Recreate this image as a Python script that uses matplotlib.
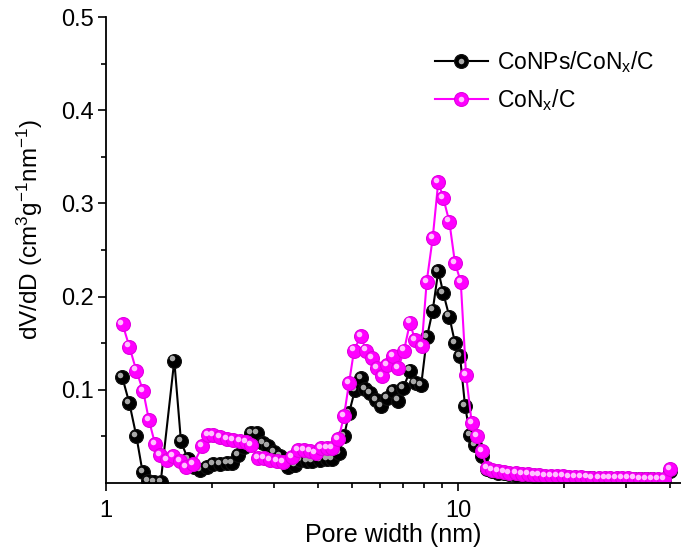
import matplotlib
matplotlib.use("Agg")
import matplotlib.pyplot as plt
from matplotlib.ticker import FixedLocator, NullFormatter, LogLocator
from matplotlib.transforms import ScaledTranslation

plt.rcParams['font.family'] = ['Liberation Sans', 'DejaVu Sans']
plt.rcParams['mathtext.fontset'] = 'custom'
plt.rcParams['mathtext.rm'] = 'Liberation Sans'
plt.rcParams['mathtext.it'] = 'Liberation Sans'
plt.rcParams['mathtext.default'] = 'regular'

# pore widths (nm) and dV/dD
black_x = [1.112, 1.165, 1.219, 1.271, 1.316, 1.372, 1.430, 1.563, 1.633, 1.707,
           1.782, 1.855, 1.936, 2.020, 2.108, 2.202, 2.275, 2.376, 2.474, 2.582,
           2.680, 2.798, 2.891, 3.007, 3.121, 3.295, 3.443, 3.557, 3.717, 3.856,
           4.055, 4.236, 4.394, 4.591, 4.744, 4.902, 5.098, 5.291, 5.442, 5.623,
           5.849, 6.031, 6.272, 6.523, 6.766, 6.991, 7.305, 7.573, 7.860, 8.164,
           8.473, 8.790, 9.082, 9.447, 9.806, 10.13, 10.47, 10.82, 11.18, 11.68, 12.09]
black_y = [0.1136, 0.0857, 0.0507, 0.0113, 0.0019, 0.0008, 0.0008, 0.1314, 0.0446, 0.0260,
           0.0174, 0.0135, 0.0174, 0.0206, 0.0206, 0.0214, 0.0214, 0.0303, 0.0389, 0.0536,
           0.0536, 0.0428, 0.0392, 0.0328, 0.0285, 0.0177, 0.0196, 0.0249, 0.0231, 0.0231,
           0.0249, 0.0257, 0.0257, 0.0321, 0.0499, 0.0750, 0.1000, 0.1125, 0.1007, 0.0965,
           0.0893, 0.0828, 0.0911, 0.0982, 0.0885, 0.1018, 0.1207, 0.1075, 0.1054, 0.1568,
           0.1850, 0.2276, 0.2037, 0.1786, 0.1501, 0.1365, 0.0828, 0.0517, 0.0410, 0.0285, 0.0153]

pink_x = [1.114, 1.165, 1.219, 1.276, 1.325, 1.378, 1.424, 1.488, 1.553, 1.623,
          1.688, 1.770, 1.877, 1.945, 2.017, 2.108, 2.202, 2.299, 2.402, 2.494,
          2.582, 2.697, 2.816, 2.923, 3.054, 3.189, 3.369, 3.518, 3.659, 3.798,
          3.937, 4.081, 4.236, 4.394, 4.576, 4.744, 4.902, 5.065, 5.291, 5.478,
          5.686, 5.875, 6.071, 6.297, 6.523, 6.766, 7.024, 7.305, 7.548, 7.886,
          8.148, 8.473, 8.790, 9.082, 9.447, 9.806, 10.18, 10.54, 10.94, 11.30, 11.68, 12.09]
pink_y = [0.1705, 0.1464, 0.1207, 0.0982, 0.0671, 0.0421, 0.0303, 0.0249, 0.0292, 0.0231,
          0.0167, 0.0203, 0.0392, 0.0510, 0.0517, 0.0493, 0.0475, 0.0458, 0.0453, 0.0435,
          0.0410, 0.0268, 0.0268, 0.0249, 0.0231, 0.0220, 0.0278, 0.0357, 0.0357, 0.0338,
          0.0324, 0.0375, 0.0375, 0.0373, 0.0469, 0.0721, 0.1072, 0.1421, 0.1579, 0.1421,
          0.1340, 0.1233, 0.1150, 0.1268, 0.1365, 0.1233, 0.1421, 0.1722, 0.1529, 0.1472,
          0.2161, 0.2627, 0.3234, 0.3056, 0.2805, 0.2359, 0.2161, 0.1161, 0.0643, 0.0507, 0.0338, 0.0160]

# large-pore tail, shared x positions
tail_x = [12.5, 13.0, 13.5, 14.0, 14.6, 15.2, 15.8, 16.4, 17.0, 17.7,
          18.4, 19.1, 19.9, 20.7, 21.5, 22.3, 23.2, 24.1, 25.1, 26.1,
          27.1, 28.2, 29.3, 30.4, 31.6, 32.9, 34.2, 35.5, 36.9, 38.4, 40.0]
black_tail = [0.0125, 0.0112, 0.0102, 0.0096, 0.0090, 0.0086, 0.0082, 0.0077, 0.0072, 0.0068,
              0.0066, 0.0063, 0.0060, 0.0057, 0.0055, 0.0053, 0.0051, 0.0050, 0.0048, 0.0046,
              0.0045, 0.0044, 0.0043, 0.0042, 0.0041, 0.0040, 0.0039, 0.0038, 0.0037, 0.0036, 0.0130]
pink_tail = [0.0137, 0.0126, 0.0115, 0.0110, 0.0104, 0.0099, 0.0094, 0.0088, 0.0083, 0.0078,
             0.0076, 0.0072, 0.0070, 0.0066, 0.0064, 0.0062, 0.0059, 0.0058, 0.0056, 0.0054,
             0.0053, 0.0052, 0.0051, 0.0049, 0.0048, 0.0047, 0.0046, 0.0045, 0.0044, 0.0043, 0.0150]

labels = ['CoNPs/CoN$_x$/C', 'CoN$_x$/C']

fig = plt.figure(figsize=(6.81, 5.51), dpi=100)
ax = fig.add_axes([106/681, 68/551, 575/681, 466/551])

shift = ax.transData + ScaledTranslation(-1.5/72, 1.5/72, fig.dpi_scale_trans)
handles = []
series = [(black_x + tail_x, black_y + black_tail, 'black', '#111111', '#a8a8a8'),
          (pink_x + tail_x, pink_y + pink_tail, '#ff00ff', '#e000e0', '#ffc0ff')]
for (xs, ys, col, edge, hi), lab in zip(series, labels):
    base, = ax.plot(xs, ys, '-o', color=col, lw=1.5, ms=10, mfc=col, mec=edge, mew=0.8)
    spot, = ax.plot(xs, ys, 'o', ls='none', ms=4, mfc=hi, mec='none', transform=shift)
    handles.append((base, spot))

ax.set_xscale('log')
ax.set_xlim(1, 43)
ax.set_ylim(0, 0.5)

ax.xaxis.set_major_locator(FixedLocator([1, 10]))
ax.xaxis.set_major_formatter(plt.FuncFormatter(lambda v, p: f'{v:g}'))
ax.xaxis.set_minor_locator(LogLocator(base=10, subs=range(2, 10)))
ax.xaxis.set_minor_formatter(NullFormatter())
ax.yaxis.set_major_locator(FixedLocator([0.1, 0.2, 0.3, 0.4, 0.5]))
ax.yaxis.set_minor_locator(FixedLocator([0.05, 0.15, 0.25, 0.35, 0.45]))

ax.tick_params(which='major', direction='out', length=6, width=1.2, labelsize=17, pad=3)
ax.tick_params(axis='x', which='major', pad=6)
ax.tick_params(which='minor', direction='out', length=3.5, width=1.2)
for s in ['top', 'right']:
    ax.spines[s].set_visible(False)
for s in ['left', 'bottom']:
    ax.spines[s].set_linewidth(1.3)

ax.set_xlabel('Pore width (nm)', fontsize=18, labelpad=1)
ax.set_ylabel('dV/dD (cm$^3$g$^{-1}$nm$^{-1}$)', fontsize=17.5)
ax.yaxis.set_label_coords(-0.106, 0.543)

ax.legend(handles, labels, loc='upper left', bbox_to_anchor=(435/681, 1 - 49/551),
          bbox_transform=fig.transFigure, borderpad=0, borderaxespad=0,
          frameon=False, fontsize=16.5, handlelength=2.3, handletextpad=0.4,
          labelspacing=0.55, numpoints=1)

fig.savefig('out.png', dpi=100)
